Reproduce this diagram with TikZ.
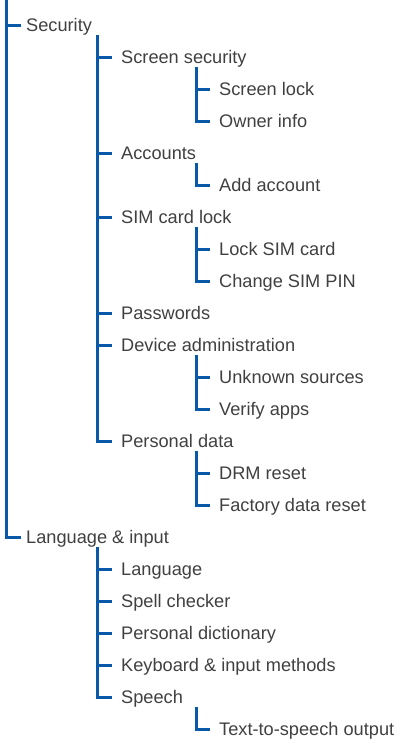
\documentclass[tikz,border=0pt]{standalone}
\usepackage{fontspec}
\setmainfont{Liberation Sans}
\usepackage{xcolor}
\usetikzlibrary{positioning,calc}
\definecolor{treeblue}{RGB}{10,88,168}
\definecolor{textgrey}{RGB}{64,64,64}

\begin{document}
\begin{tikzpicture}[
    x=1pt, y=-1pt,
    item/.style={anchor=west, inner xsep=9pt, inner ysep=0pt, text height=12.9pt, text depth=0pt, text=textgrey, font=\fontsize{18.2}{20}\selectfont},
    top/.style={item, inner xsep=5pt},
    branch/.style={draw=treeblue, line width=3pt}
]
\useasboundingbox (0,0) rectangle (398,739);

% Top level
\coordinate (rootbar) at (6,0);
\node[top] (security) at (21,25) {Security};
\node[top] (language) at (21,537) {Language \& input};

% Security
\coordinate (secbar) at (97,35);
\node[item] (scrsec) at (112,57) {Screen security};
\node[item] (accounts) at (112,153) {Accounts};
\node[item] (simlock) at (112,217) {SIM card lock};
\node[item] (passwords) at (112,313) {Passwords};
\node[item] (devadmin) at (112,345) {Device administration};
\node[item] (personal) at (112,441) {Personal data};

% Screen security
\coordinate (scrbar) at (196,67);
\node[item] (scrlock) at (210,89) {Screen lock};
\node[item] (owner) at (210,121) {Owner info};

% Accounts
\coordinate (accbar) at (196,163);
\node[item] (addacc) at (210,185) {Add account};

% SIM card lock
\coordinate (simbar) at (196,227);
\node[item] (locksim) at (210,249) {Lock SIM card};
\node[item] (changepin) at (210,281) {Change SIM PIN};

% Device administration
\coordinate (devbar) at (196,355);
\node[item] (unknown) at (210,377) {Unknown sources};
\node[item] (verify) at (210,409) {Verify apps};

% Personal data
\coordinate (persbar) at (196,451);
\node[item] (drm) at (210,473) {DRM reset};
\node[item] (factory) at (210,505) {Factory data reset};

% Language & input
\coordinate (langbar) at (97,547);
\node[item] (lang) at (112,569) {Language};
\node[item] (spell) at (112,601) {Spell checker};
\node[item] (dict) at (112,633) {Personal dictionary};
\node[item] (keyboard) at (112,665) {Keyboard \& input methods};
\node[item] (speech) at (112,697) {Speech};

% Speech
\coordinate (speechbar) at (196,707);
\node[item] (tts) at (210,729) {Text-to-speech output};

% Connectors
\foreach \child in {security,language}
    \draw[branch] (rootbar) |- (\child.west);
\foreach \child in {scrsec,accounts,simlock,passwords,devadmin,personal}
    \draw[branch] (secbar) |- (\child.west);
\foreach \child in {scrlock,owner}
    \draw[branch] (scrbar) |- (\child.west);
\draw[branch] (accbar) |- (addacc.west);
\foreach \child in {locksim,changepin}
    \draw[branch] (simbar) |- (\child.west);
\foreach \child in {unknown,verify}
    \draw[branch] (devbar) |- (\child.west);
\foreach \child in {drm,factory}
    \draw[branch] (persbar) |- (\child.west);
\foreach \child in {lang,spell,dict,keyboard,speech}
    \draw[branch] (langbar) |- (\child.west);
\draw[branch] (speechbar) |- (tts.west);

\end{tikzpicture}
\end{document}
